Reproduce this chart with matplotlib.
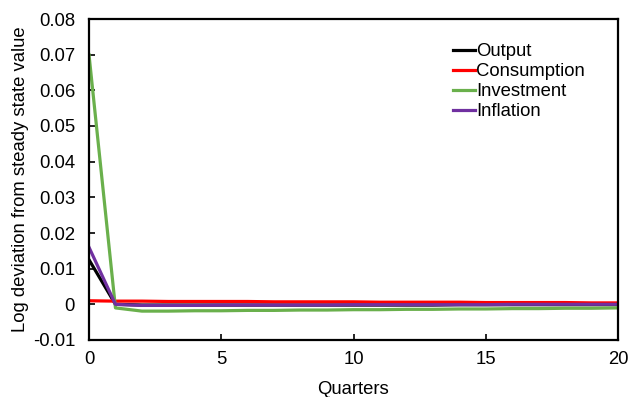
import matplotlib
matplotlib.use("Agg")
import matplotlib.pyplot as plt

plt.rcParams['font.family'] = ['Liberation Sans', 'DejaVu Sans']

quarters = list(range(0, 21))
output = [0.0125, 0.0000, -0.0002, -0.0002, -0.0002, -0.0002, -0.0002, -0.0002, -0.0002, -0.0002,
          -0.0002, -0.0002, -0.0002, -0.0002, -0.0001, -0.0001, -0.0001, -0.0001, -0.0001, -0.0001, -0.0001]
consumption = [0.0010, 0.0009, 0.0009, 0.0008, 0.0008, 0.0008, 0.0008, 0.0007, 0.0007, 0.0007,
               0.0007, 0.0006, 0.0006, 0.0006, 0.0006, 0.0005, 0.0005, 0.0005, 0.0005, 0.0004, 0.0004]
investment = [0.0700, -0.0010, -0.0019, -0.0019, -0.0018, -0.0018, -0.0017, -0.0017, -0.0016, -0.0016,
              -0.0015, -0.0015, -0.0014, -0.0014, -0.0013, -0.0013, -0.0012, -0.0012, -0.0011, -0.0011, -0.0010]
inflation = [0.0160, 0.0000, -0.0003, -0.0003, -0.0003, -0.0002, -0.0002, -0.0002, -0.0002, -0.0002,
             -0.0001, -0.0001, -0.0001, -0.0001, -0.0001, -0.0001, 0.0000, 0.0000, 0.0000, 0.0000, 0.0000]

series = [("Output", output, "#000000"),
          ("Consumption", consumption, "#ff0000"),
          ("Investment", investment, "#6ab04c"),
          ("Inflation", inflation, "#7030a0")]

fs = 13.3
fig = plt.figure(figsize=(6.28, 3.97), dpi=100)
ax = fig.add_axes([89/628, 1 - 340/397, (618-89)/628, (340-19)/397])

for name, vals, col in series:
    ax.plot(quarters, vals, color=col, lw=2.3, label=name)

ax.set_xlim(0, 20)
ax.set_ylim(-0.01, 0.08)
ax.set_xticks([0, 5, 10, 15, 20])
ax.set_yticks([-0.01, 0, 0.01, 0.02, 0.03, 0.04, 0.05, 0.06, 0.07, 0.08])
ax.set_yticklabels(["-0.01", "0", "0.01", "0.02", "0.03", "0.04", "0.05", "0.06", "0.07", "0.08"])
ax.tick_params(direction='in', length=4, width=1.2, labelsize=fs)
ax.tick_params(axis='y', pad=10)
ax.tick_params(axis='x', pad=8)
for s in ax.spines.values():
    s.set_linewidth(1.6)
ax.set_xlabel("Quarters", fontsize=fs, labelpad=9)
ax.set_ylabel("Log deviation from steady state value", fontsize=fs, labelpad=3)

leg = ax.legend(loc='upper left', bbox_to_anchor=(0.688, 0.925), frameon=False, fontsize=fs,
                handlelength=1.2, handletextpad=0.05, labelspacing=0.17, borderaxespad=0,
                borderpad=0)

fig.savefig("out.png", dpi=100)
